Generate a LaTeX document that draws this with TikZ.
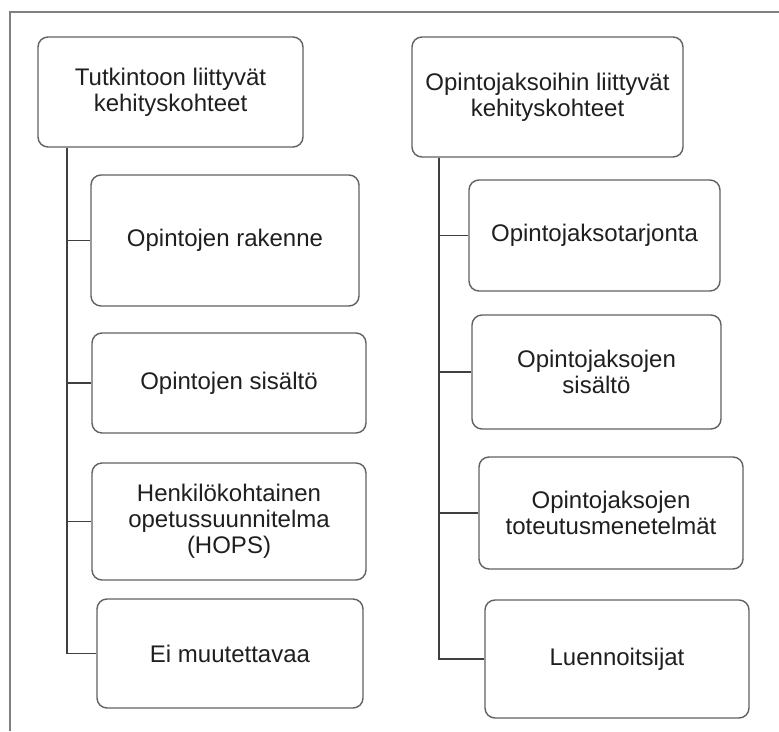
\documentclass[tikz,border=0pt]{standalone}
\usepackage{fontspec}
\setmainfont{Liberation Sans}
\begin{document}
\begin{tikzpicture}[x=1pt,y=-1pt,
  box/.style={draw=black!62, line width=1.4pt, rounded corners=10pt, fill=white,
    inner sep=0pt, align=center, text=black!88,
    font=\fontsize{24}{26}\selectfont},
  link/.style={draw=black!75, line width=1.3pt},
  frame/.style={draw=black!50, line width=2pt}]
\useasboundingbox (0,0) rectangle (779,731);
\draw[frame] (10,731) -- (10,12) -- (779,12);
% left column
\node[box, minimum width=265pt, minimum height=110pt] (T1) at (170.5,92) {Tutkintoon liittyvät\\kehityskohteet};
\node[box, minimum width=268pt, minimum height=131pt] (L1) at (225,240.5) {Opintojen rakenne};
\node[box, minimum width=274pt, minimum height=100pt] (L2) at (229,383) {Opintojen sisältö};
\node[box, minimum width=274pt, minimum height=117pt] (L3) at (229,521.5) {Henkilökohtainen\\opetussuunnitelma\\(HOPS)};
\node[box, minimum width=266pt, minimum height=109pt] (L4) at (230,653.5) {Ei muutettavaa};
% right column
\node[box, minimum width=271pt, minimum height=120pt] (T2) at (547.5,97) {Opintojaksoihin liittyvät\\kehityskohteet};
\node[box, minimum width=251pt, minimum height=111pt] (R1) at (594.5,235.5) {Opintojaksotarjonta};
\node[box, minimum width=249pt, minimum height=114pt] (R2) at (596.5,372) {Opintojaksojen\\sisältö};
\node[box, minimum width=264pt, minimum height=112pt] (R3) at (611,513) {Opintojaksojen\\toteutusmenetelmät};
\node[box, minimum width=264pt, minimum height=118pt] (R4) at (617,659) {Luennoitsijat};
\coordinate (cl) at (67,0);
\coordinate (cr) at (439,0);
\foreach \n in {L1,L2,L3,L4} \draw[link] (T1.south -| cl) |- (\n.west);
\foreach \n in {R1,R2,R3,R4} \draw[link] (T2.south -| cr) |- (\n.west);
\end{tikzpicture}
\end{document}
